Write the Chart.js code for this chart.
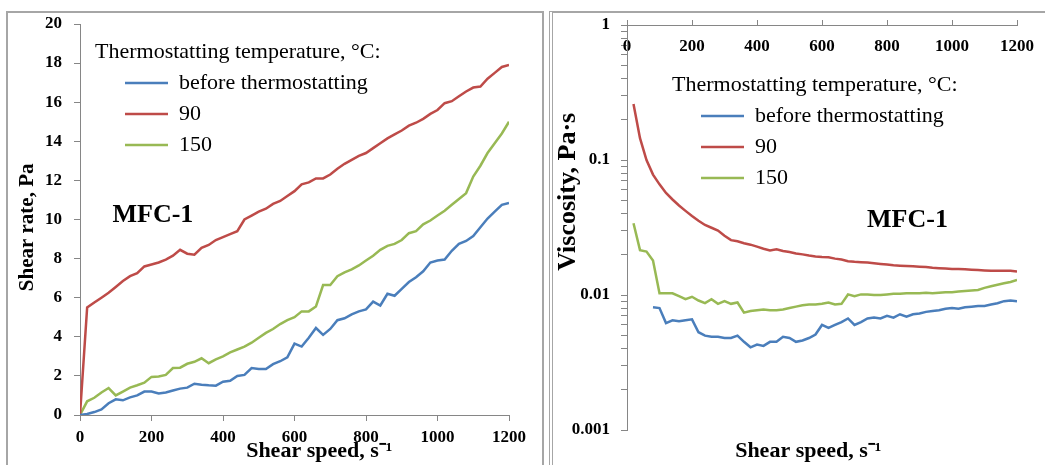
<!DOCTYPE html>
<html>
<head>
<meta charset="utf-8">
<script src="https://cdn.jsdelivr.net/npm/chart.js@4/dist/chart.umd.min.js"></script>
<style>
  html, body { margin: 0; padding: 0; background: #fff; width: 1045px; height: 465px; overflow: hidden; }
  #frameL { position: absolute; left: 6px; top: 11px; width: 538px; height: 470px; border: 2px solid #a6a6a6; border-bottom: none; box-sizing: border-box; }
  #frameR { position: absolute; left: 549px; top: 11px; width: 600px; height: 470px; border-left: 4px double #a6a6a6; border-top: 2px solid #a6a6a6; box-sizing: border-box; }
  canvas { position: absolute; top: 0; }
  #cL { left: 0; }
  #cR { left: 552px; }
</style>
</head>
<body>
<div id="frameL"></div>
<div id="frameR"></div>
<canvas id="cL" width="548" height="465" style="width:548px;height:465px"></canvas>
<canvas id="cR" width="493" height="465" style="width:493px;height:465px"></canvas>
<script>
// ---------- data ----------
const speeds = [0, 20, 40, 60, 80, 100, 120, 140, 160, 180, 200, 220, 240, 260, 280, 300, 320, 340, 360, 380,
  400, 420, 440, 460, 480, 500, 520, 540, 560, 580, 600, 620, 640, 660, 680, 700, 720, 740, 760, 780,
  800, 820, 840, 860, 880, 900, 920, 940, 960, 980, 1000, 1020, 1040, 1060, 1080, 1100, 1120, 1140, 1160, 1180, 1200];

const seriesLabels = ['before thermostatting', '90', '150'];

// Shear rate (Pa), left panel
const stressBefore = [0, 0.05, 0.15, 0.28, 0.6, 0.8, 0.75, 0.9, 1.0, 1.2, 1.2, 1.1, 1.15, 1.25, 1.35, 1.4, 1.6, 1.55, 1.52, 1.5,
  1.7, 1.75, 2.0, 2.05, 2.4, 2.35, 2.35, 2.6, 2.75, 2.95, 3.65, 3.5, 3.95, 4.45, 4.1, 4.4, 4.85, 4.95, 5.15, 5.3,
  5.4, 5.8, 5.6, 6.2, 6.1, 6.45, 6.8, 7.05, 7.35, 7.8, 7.9, 7.95, 8.4, 8.75, 8.9, 9.15, 9.6, 10.05, 10.4, 10.75, 10.85];
const stress90 = [0, 5.5, 5.75, 6.0, 6.25, 6.55, 6.85, 7.1, 7.25, 7.6, 7.7, 7.8, 7.95, 8.15, 8.45, 8.25, 8.2, 8.55, 8.7, 8.95,
  9.1, 9.25, 9.4, 10.0, 10.2, 10.4, 10.55, 10.8, 10.95, 11.2, 11.45, 11.8, 11.9, 12.1, 12.1, 12.3, 12.6, 12.85, 13.05, 13.25,
  13.4, 13.65, 13.9, 14.15, 14.35, 14.55, 14.8, 14.95, 15.15, 15.4, 15.6, 15.95, 16.05, 16.3, 16.55, 16.75, 16.8, 17.2, 17.5, 17.8, 17.9];
const stress150 = [0, 0.7, 0.88, 1.15, 1.38, 1.0, 1.2, 1.4, 1.52, 1.65, 1.95, 1.97, 2.05, 2.4, 2.42, 2.62, 2.72, 2.9, 2.65, 2.85,
  3.0, 3.2, 3.35, 3.5, 3.7, 3.95, 4.2, 4.4, 4.65, 4.85, 5.0, 5.3, 5.3, 5.55, 6.65, 6.65, 7.1, 7.3, 7.45, 7.65,
  7.9, 8.15, 8.45, 8.65, 8.75, 8.95, 9.3, 9.4, 9.75, 9.95, 10.2, 10.45, 10.75, 11.05, 11.35, 12.2, 12.75, 13.4, 13.9, 14.4, 15.0];

// Viscosity (Pa·s), right panel
const viscBefore = [null, null, null, null, 0.0081, 0.008, 0.0062, 0.0065, 0.0064, 0.0065, 0.0066, 0.0053, 0.005, 0.0049, 0.0049, 0.0048, 0.0048, 0.005, 0.0045, 0.0041,
  0.0043, 0.0042, 0.0045, 0.0045, 0.0049, 0.0048, 0.0045, 0.0046, 0.0048, 0.0051, 0.006, 0.0057, 0.006, 0.0063, 0.0067, 0.006, 0.0063, 0.0067, 0.0068, 0.0067,
  0.007, 0.0068, 0.0072, 0.0069, 0.0072, 0.0073, 0.0075, 0.0076, 0.0077, 0.0079, 0.008, 0.0079, 0.0081, 0.0082, 0.0083, 0.0083, 0.0085, 0.0087, 0.009, 0.0091, 0.009];
const visc90 = [null, 0.26, 0.145, 0.1, 0.078, 0.066, 0.057, 0.051, 0.046, 0.042, 0.0385, 0.0355, 0.033, 0.0315, 0.030, 0.0275, 0.0255, 0.025, 0.0242, 0.0236,
  0.0228, 0.022, 0.0214, 0.0218, 0.0212, 0.0208, 0.0203, 0.0200, 0.0196, 0.0193, 0.0191, 0.019, 0.0186, 0.0183, 0.0178, 0.0176, 0.0175, 0.0174, 0.0172, 0.017,
  0.0168, 0.0166, 0.0165, 0.0164, 0.0163, 0.0162, 0.0161, 0.0159, 0.0158, 0.0157, 0.0156, 0.0156, 0.0155, 0.0154, 0.0153, 0.0152, 0.0151, 0.0151, 0.0151, 0.0151, 0.0149];
const visc150 = [null, 0.034, 0.0215, 0.021, 0.018, 0.0103, 0.0103, 0.0103, 0.0098, 0.0093, 0.0097, 0.0091, 0.0087, 0.0093, 0.0086, 0.009, 0.0086, 0.0088, 0.0074, 0.0076,
  0.0077, 0.0078, 0.0077, 0.0077, 0.0078, 0.008, 0.0082, 0.0084, 0.0085, 0.0085, 0.0086, 0.0088, 0.0085, 0.0086, 0.0101, 0.0098, 0.0101, 0.0101, 0.01, 0.01,
  0.0101, 0.0102, 0.0102, 0.0103, 0.0103, 0.0103, 0.0104, 0.0103, 0.0104, 0.0105, 0.0105, 0.0106, 0.0107, 0.0108, 0.0109, 0.0113, 0.0116, 0.0119, 0.0122, 0.0125, 0.0129];

const leftYTicks = [0, 2, 4, 6, 8, 10, 12, 14, 16, 18, 20];
const xTicks = [0, 200, 400, 600, 800, 1000, 1200];
const logTicks = [0.001, 0.01, 0.1, 1];

// ---------- style ----------
const FONT = "'Liberation Serif', 'Times New Roman', serif";
const AXIS = '#868686';
const COLORS = ['#4A7EBB', '#BE4B48', '#98B954'];
const legendTitle = 'Thermostatting temperature, °C:';

Chart.defaults.font.family = FONT;
Chart.defaults.color = '#000';

function series(ys) {
  const out = [];
  speeds.forEach((s, i) => { if (ys[i] !== null) out.push({ x: s, y: ys[i] }); });
  return out;
}
function datasets(arrs) {
  return arrs.map((a, i) => ({
    label: seriesLabels[i], data: series(a), xAxisID: 'x', yAxisID: 'y',
    borderColor: COLORS[i], backgroundColor: COLORS[i],
    borderWidth: 2.5, pointRadius: 0, tension: 0, fill: false
  }));
}

// place legend (items) and its heading (chart title block) inside the plot area
const legendPlacer = {
  id: 'legendPlacer',
  afterLayout(chart, args, o) {
    const ca = chart.chartArea;
    const lg = chart.legend;
    if (lg) {
      const pad = lg.options.labels.padding;
      lg.left = o.itemX - pad;
      lg.top = o.itemY - pad - 11;
      lg.right = ca.right;
      lg.width = lg.right - lg.left;
      lg.bottom = ca.bottom;
      lg.height = lg.bottom - lg.top;
    }
    const tb = chart.titleBlock;
    if (tb) {
      tb.left = o.titleX;
      tb.width = 420;
      tb.right = tb.left + tb.width;
      tb.top = o.titleY - 11;
      tb.height = 22;
      tb.bottom = tb.top + tb.height;
    }
  }
};

const mfcLabel = {
  id: 'mfc',
  afterDatasetsDraw(chart, args, o) {
    const ctx = chart.ctx;
    ctx.save();
    ctx.font = 'bold 26px ' + FONT;
    ctx.fillStyle = '#000';
    ctx.textAlign = 'center';
    ctx.textBaseline = 'middle';
    ctx.fillText(o.text, chart.scales.x.getPixelForValue(o.x), chart.scales.y.getPixelForValue(o.y));
    ctx.restore();
  }
};

function legendOpts() {
  return {
    position: 'chartArea', align: 'start',
    title: { display: false },
    labels: { usePointStyle: true, pointStyle: 'line', pointStyleWidth: 43, padding: 9, color: '#000', textAlign: 'left', font: { size: 22 } }
  };
}
function titleOpts() {
  return { display: true, position: 'top', align: 'start', text: legendTitle, color: '#000', padding: 0, font: { size: 22, weight: 'normal', lineHeight: 1 } };
}

const tickFont = { size: 17, weight: 'bold' };
const plainNum = v => String(v);

// ---------- left chart ----------
new Chart(document.getElementById('cL'), {
  type: 'line',
  data: { datasets: datasets([stressBefore, stress90, stress150]) },
  options: {
    responsive: false, animation: false, events: [], devicePixelRatio: 1,
    layout: { padding: { left: 10, right: 39, top: 2, bottom: 0 } },
    scales: {
      x: {
        type: 'linear', position: 'bottom', min: 0, max: 1200,
        afterFit: s => { s.height = 50; },
        afterBuildTicks: s => { s.ticks = xTicks.map(v => ({ value: v })); },
        border: { display: true, color: AXIS, width: 1 },
        grid: { display: true, drawOnChartArea: false, drawTicks: true, tickLength: 6, color: AXIS },
        ticks: { padding: 6, font: tickFont, color: '#000', maxRotation: 0, autoSkip: false, callback: plainNum },
        title: { display: true, text: '         Shear speed, s⁻¹', font: { size: 22, weight: 'bold' }, color: '#000', padding: { top: 0, bottom: 0 } }
      },
      y: {
        type: 'linear', position: 'left', min: 0, max: 20,
        afterFit: s => { s.width = 70; },
        afterBuildTicks: s => { s.ticks = leftYTicks.map(v => ({ value: v })); },
        border: { display: true, color: AXIS, width: 1 },
        grid: { display: true, drawOnChartArea: false, drawTicks: true, tickLength: 6, color: AXIS },
        ticks: { padding: 12, font: tickFont, color: '#000', autoSkip: false, callback: plainNum },
        title: { display: true, text: 'Shear rate, Pa   ', font: { size: 21, weight: 'bold' }, color: '#000', padding: { top: 5, bottom: 0 } }
      }
    },
    plugins: {
      legend: legendOpts(),
      title: titleOpts(),
      tooltip: { enabled: false },
      legendPlacer: { titleX: 95, titleY: 52, itemX: 125, itemY: 83 },
      mfc: { text: 'MFC-1', x: 204, y: 10.2 }
    }
  },
  plugins: [legendPlacer, mfcLabel]
});

// ---------- right chart ----------
new Chart(document.getElementById('cR'), {
  type: 'line',
  data: { datasets: datasets([viscBefore, visc90, visc150]) },
  options: {
    responsive: false, animation: false, events: [], devicePixelRatio: 1,
    layout: { padding: { left: 0, right: 23, top: 0, bottom: 0 } },
    scales: {
      x: {
        type: 'linear', position: 'top', min: 0, max: 1200,
        afterFit: s => { s.height = 3; },
        afterBuildTicks: s => { s.ticks = xTicks.map(v => ({ value: v })); },
        border: { display: true, color: AXIS, width: 1 },
        grid: { display: true, drawOnChartArea: false, drawTicks: true, tickLength: 5, color: AXIS },
        ticks: { mirror: true, padding: 11, font: tickFont, color: '#000', maxRotation: 0, autoSkip: false, callback: plainNum }
      },
      x2: {
        type: 'linear', position: 'bottom', min: 0, max: 1200,
        afterFit: s => { s.height = 35; },
        border: { display: false },
        grid: { display: false },
        ticks: { display: false },
        title: { display: true, text: 'Shear speed, s⁻¹     ', font: { size: 22, weight: 'bold' }, color: '#000', padding: { top: 0, bottom: 0 } }
      },
      y: {
        type: 'logarithmic', position: 'left', min: 0.001, max: 1,
        afterFit: s => { s.width = 75; },
        afterBuildTicks: s => {
          s.ticks = s.ticks.filter(t => {
            const e = Math.floor(Math.log10(t.value) + 1e-9);
            const m = t.value / Math.pow(10, e);
            return Math.abs(m - 1.5) > 0.01;
          });
        },
        border: { display: true, color: AXIS, width: 1 },
        grid: { display: true, drawOnChartArea: false, drawTicks: true, tickLength: 6, color: AXIS },
        ticks: {
          padding: 11, font: tickFont, color: '#000', autoSkip: false,
          callback: v => {
            const hit = logTicks.find(t => Math.abs(t - v) / t < 1e-6);
            return hit !== undefined ? String(hit) : '';
          }
        },
        title: { display: true, text: '           Viscosity, Pa·s', font: { size: 26, weight: 'bold' }, color: '#000', padding: { top: 1, bottom: 0 } }
      }
    },
    plugins: {
      legend: legendOpts(),
      title: titleOpts(),
      tooltip: { enabled: false },
      legendPlacer: { titleX: 120, titleY: 85, itemX: 149, itemY: 116 },
      mfc: { text: 'MFC-1', x: 863, y: 0.036 }
    }
  },
  plugins: [legendPlacer, mfcLabel]
});
</script>
</body>
</html>
